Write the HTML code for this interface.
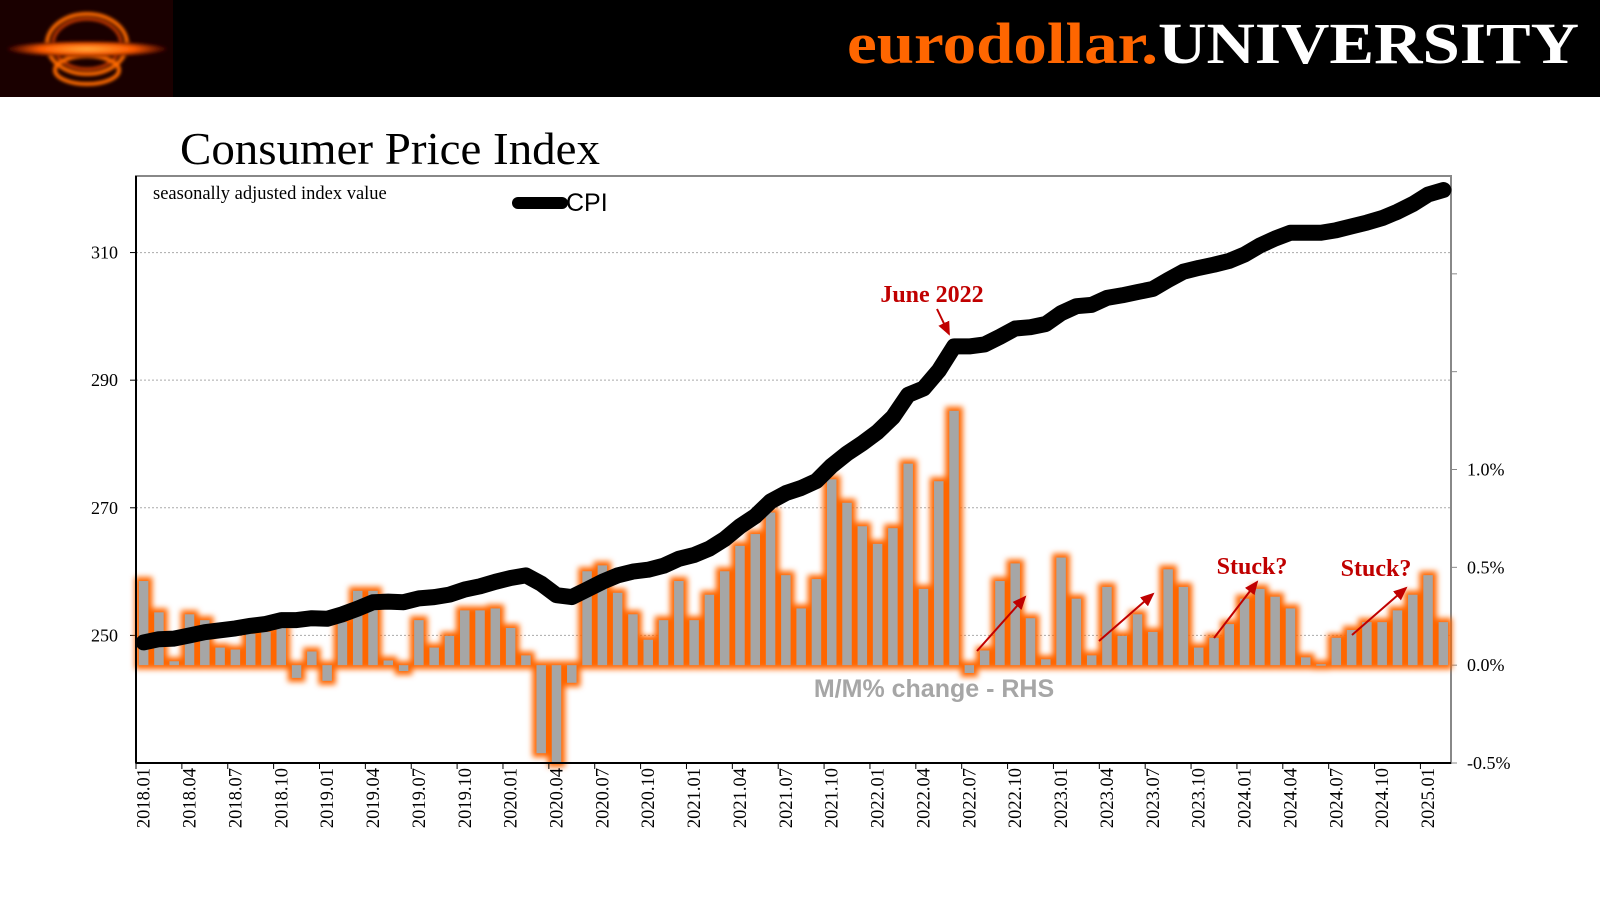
<!DOCTYPE html>
<html><head><meta charset="utf-8"><style>
body{margin:0;width:1600px;height:900px;background:#fff;overflow:hidden;font-family:"Liberation Serif",serif}
</style></head><body>
<svg id="chart" width="1600" height="900" xmlns="http://www.w3.org/2000/svg">
<defs>
<filter id="glow" x="-50%" y="-50%" width="200%" height="200%"><feGaussianBlur stdDeviation="3"/></filter>
<filter id="lblur"><feGaussianBlur stdDeviation="1.5"/></filter>
<radialGradient id="lg" cx="50%" cy="50%" r="50%"><stop offset="0" stop-color="#ffb040"/><stop offset="0.6" stop-color="#ff5a00"/><stop offset="1" stop-color="#300000"/></radialGradient>
<marker id="ah" markerWidth="8" markerHeight="8" refX="6" refY="3" orient="auto"><path d="M0,0 L7,3 L0,6 Z" fill="#c00000"/></marker>
</defs>
<rect x="0" y="0" width="1600" height="97" fill="#000"/>
<g>
<rect x="0" y="0" width="173" height="97" fill="#1a0000"/>
<g filter="url(#lblur)">
<ellipse cx="87" cy="44" rx="40" ry="30" fill="none" stroke="#ff6a00" stroke-width="4"/>
<ellipse cx="87" cy="44" rx="34" ry="25" fill="none" stroke="#cc3a00" stroke-width="3"/>
<ellipse cx="87" cy="70" rx="32" ry="14" fill="none" stroke="#ff6a00" stroke-width="4"/>
<ellipse cx="87" cy="49" rx="80" ry="8" fill="url(#lg)"/>
</g>
</g>
<text x="847" y="63" font-size="58" font-weight="bold" textLength="732" lengthAdjust="spacingAndGlyphs"><tspan fill="#ff6600">eurodollar.</tspan><tspan fill="#fff">UNIVERSITY</tspan></text>
<text x="180" y="164" font-size="46" textLength="420" lengthAdjust="spacingAndGlyphs">Consumer Price Index</text>
<g id="plot"></g>
</svg>
<script>
const months = [];
for (let y = 2018; y <= 2025; y++) for (let m = 1; m <= 12; m++) { if (y === 2025 && m > 2) break; months.push(y + '.' + String(m).padStart(2, '0')); }
const cpiValues = [248.9,249.4,249.5,250.0,250.5,250.8,251.1,251.5,251.8,252.4,252.4,252.7,
252.6,253.3,254.2,255.2,255.3,255.2,255.8,256.0,256.4,257.2,257.7,258.4,
259.0,259.4,258.1,256.3,256.0,257.2,258.4,259.4,260.0,260.3,260.9,262.0,
262.6,263.6,265.1,267.1,268.7,271.0,272.3,273.1,274.2,276.6,278.5,280.1,
281.9,284.2,287.7,288.7,291.5,295.3,295.3,295.6,296.8,298.1,298.3,298.8,
300.5,301.6,301.8,302.9,303.3,303.8,304.3,305.7,307.0,307.6,308.1,308.7,
309.7,311.1,312.2,313.1,313.1,313.1,313.5,314.1,314.7,315.4,316.4,317.6,
319.1,319.8];
const momValues = [0.43,0.27,0.02,0.26,0.23,0.09,0.08,0.16,0.17,0.19,-0.065,0.07,
-0.08,0.22,0.38,0.38,0.024,-0.03,0.23,0.09,0.15,0.28,0.28,0.29,
0.19,0.05,-0.45,-0.7,-0.09,0.48,0.51,0.37,0.26,0.13,0.23,0.43,
0.23,0.36,0.48,0.61,0.67,0.78,0.46,0.29,0.44,0.95,0.83,0.71,
0.62,0.70,1.03,0.39,0.94,1.30,-0.04,0.075,0.43,0.52,0.24,0.03,
0.55,0.34,0.05,0.40,0.15,0.26,0.17,0.49,0.40,0.09,0.14,0.21,
0.34,0.39,0.35,0.29,0.04,0.005,0.14,0.18,0.22,0.22,0.28,0.36,
0.46,0.22];
const leftTicks = [250,270,290,310];
const rightTicks = [-0.5,0,0.5,1.0,1.5,2.0];
const rightTickLabels = ['-0.5%','0.0%','0.5%','1.0%','',''];

const NS='http://www.w3.org/2000/svg';
const L=136,R=1451,T=176,B=763;
const yL=v=>B-(v-230)/(322-230)*(B-T);
const yR=v=>B-(v+0.5)/3.0*(B-T);
const bw=(R-L)/months.length;
const xC=i=>L+bw*(i+0.5);
const plot=document.getElementById('plot');
function mk(tag,attrs,parent){const e=document.createElementNS(NS,tag);for(const k in attrs)e.setAttribute(k,attrs[k]);(parent||plot).appendChild(e);return e;}

let e=mk('rect',{x:L,y:T,width:R-L,height:B-T,fill:'none',stroke:'#888','stroke-width':2});


leftTicks.forEach(v=>{
 let g=mk('line',{x1:L,x2:R,y1:yL(v),y2:yL(v),stroke:'#aaa','stroke-width':1,'stroke-dasharray':'2,2'});
 
 
 mk('line',{x1:L-6,x2:L,y1:yL(v),y2:yL(v),stroke:'#000'});
 let t=mk('text',{x:118,y:yL(v)+6,'text-anchor':'end','font-size':18});
 t.textContent=v;
 
 
});
rightTicks.forEach((v,i)=>{
 mk('line',{x1:R,x2:R+6,y1:yR(v),y2:yR(v),stroke:'#888'});
 if(rightTickLabels[i]){let t=mk('text',{x:1467,y:yR(v)+6,'font-size':18});
 t.textContent=rightTickLabels[i];
 
 }
});
const glow=mk('g',{filter:'url(#glow)'});


const bars=mk('g',{});


const clipB=v=>Math.max(v,-0.5);
momValues.forEach((v,i)=>{
 const w=bw*0.62, x=xC(i)-w/2;
 const y0=yR(0), y1=yR(clipB(v));
 const top=Math.min(y0,y1), h=Math.max(Math.abs(y1-y0),1.5);
 mk('rect',{x:x-4,y:top-4,width:w+8,height:h+8,fill:'#ff6600'},glow);
 let r=mk('rect',{x:x,y:top,width:w,height:h,fill:'#a6a6a6'},bars);
 
 
});
mk('line',{x1:L,x2:L,y1:T,y2:B,stroke:'#000','stroke-width':2});
mk('line',{x1:L,x2:R,y1:B,y2:B,stroke:'#000','stroke-width':2});
months.forEach((m,i)=>{
 if(i%3===0){
  mk('line',{x1:L+bw*i,x2:L+bw*i,y1:B,y2:B+6,stroke:'#000'});
  let t=mk('text',{transform:`translate(${xC(i)+6},768) rotate(-90)`,'text-anchor':'end','font-size':18.5});
  t.textContent=m;
  
  
 }
});
let d=cpiValues.map((v,i)=>(i?'L':'M')+xC(i).toFixed(1)+','+yL(v).toFixed(1)).join(' ');
let ln=mk('path',{d:d,fill:'none',stroke:'#000','stroke-width':16,'stroke-linecap':'round','stroke-linejoin':'round'});


function txt(s,a,name){let t=mk('text',a);t.textContent=s;return t;}
txt('seasonally adjusted index value',{x:153,y:199,'font-size':18.5},'y-axis-subtitle');
let lg=mk('line',{x1:518,x2:562,y1:203,y2:203,stroke:'#000','stroke-width':12,'stroke-linecap':'round'});


txt('CPI',{x:566,y:211,'font-size':25,'font-family':'Liberation Sans, sans-serif'},'legend-cpi-label');
txt('June 2022',{x:932,y:302,'font-size':24,'font-weight':'bold',fill:'#c00000','text-anchor':'middle'},'annotation-june-2022');
txt('Stuck?',{x:1252,y:574,'font-size':24,'font-weight':'bold',fill:'#c00000','text-anchor':'middle'},'annotation-stuck-1');
txt('Stuck?',{x:1376,y:576,'font-size':24,'font-weight':'bold',fill:'#c00000','text-anchor':'middle'},'annotation-stuck-2');
txt('M/M% change - RHS',{x:934,y:697,'font-size':25,'font-weight':'bold',fill:'#a6a6a6','text-anchor':'middle','font-family':'Liberation Sans, sans-serif'},'series-label-mom');
[[937,309,949,334],[977,651,1025,597],[1099,641,1153,594],[1214,638,1257,582],[1352,635,1406,588]].forEach(a=>{
 let ar=mk('line',{x1:a[0],y1:a[1],x2:a[2],y2:a[3],stroke:'#c00000','stroke-width':2,'marker-end':'url(#ah)'});
 
 
});
</script>
</body></html>
